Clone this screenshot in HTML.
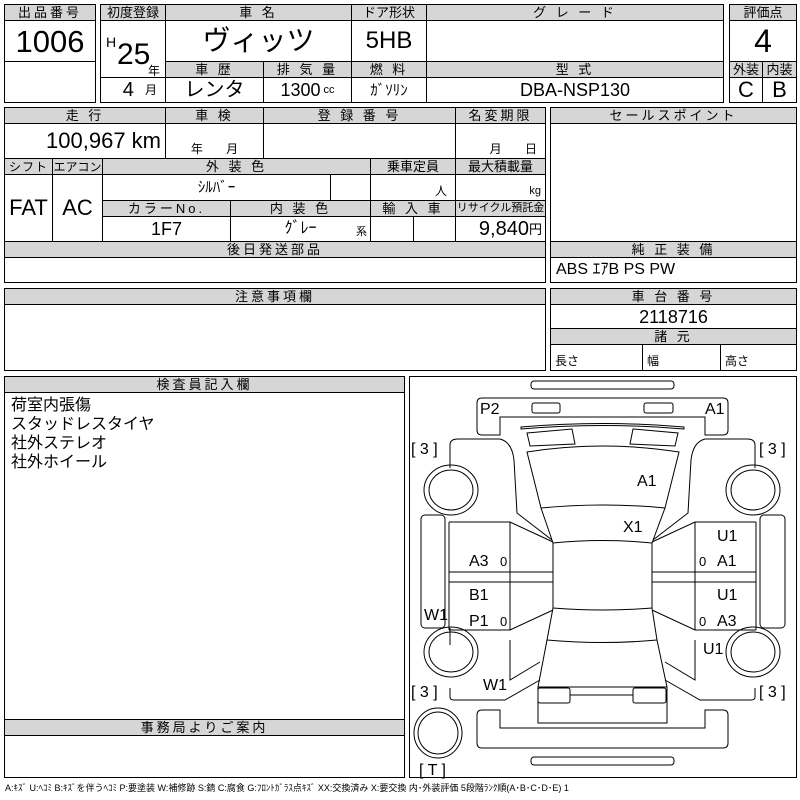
<!DOCTYPE html>
<html><head><meta charset="utf-8"><style>
*{margin:0;padding:0;box-sizing:border-box}
body{width:800px;height:800px;background:#fff;position:relative;overflow:hidden;font-family:"Liberation Sans Narrow","Liberation Sans","Noto Sans CJK JP",sans-serif;color:#000}
.c{position:absolute;border:1px solid #000;display:flex;align-items:center;justify-content:center;white-space:nowrap;line-height:1}
.h{background:#d6d6d6;font-size:13px;letter-spacing:3px}
.o{position:absolute;border:1.5px solid #000}
svg{position:absolute;left:0;top:0}
</style></head><body>
<!-- box1 -->
<div class="c h" style="left:4px;top:4px;width:92px;height:17px">出品番号</div>
<div class="c" style="left:4px;top:20px;width:92px;height:42px;font-size:31px">1006</div>
<div class="c" style="left:4px;top:61px;width:92px;height:42px"></div>
<!-- box2 -->
<div class="c h" style="left:100px;top:4px;width:66px;height:17px;letter-spacing:0">初度登録</div>
<div class="c h" style="left:165px;top:4px;width:187px;height:17px">車 名</div>
<div class="c h" style="left:351px;top:4px;width:76px;height:17px;letter-spacing:0">ドア形状</div>
<div class="c h" style="left:426px;top:4px;width:298px;height:17px">グ レ ー ド</div>
<div class="c" style="left:100px;top:20px;width:66px;height:58px;border-bottom:none"></div>
<div style="position:absolute;left:106px;top:34px;font-size:14px">H</div>
<div style="position:absolute;left:117px;top:38px;font-size:30px">25</div>
<div style="position:absolute;left:148px;top:62px;font-size:12px">年</div>
<div class="c" style="left:165px;top:20px;width:187px;height:42px;font-size:28px">ヴィッツ</div>
<div class="c" style="left:351px;top:20px;width:76px;height:42px;font-size:24px">5HB</div>
<div class="c" style="left:426px;top:20px;width:298px;height:42px"></div>
<div class="c h" style="left:165px;top:61px;width:99px;height:17px">車 歴</div>
<div class="c h" style="left:263px;top:61px;width:89px;height:17px">排 気 量</div>
<div class="c h" style="left:351px;top:61px;width:76px;height:17px">燃 料</div>
<div class="c h" style="left:426px;top:61px;width:298px;height:17px">型 式</div>
<div class="c" style="left:100px;top:77px;width:66px;height:26px;font-size:20px;justify-content:flex-end;padding-right:8px">4&nbsp;&nbsp;<span style="font-size:12px">月</span></div>
<div class="c" style="left:165px;top:77px;width:99px;height:26px;font-size:20px">レンタ</div>
<div class="c" style="left:263px;top:77px;width:89px;height:26px;font-size:18px">1300 <span style="font-size:11px">&nbsp;cc</span></div>
<div class="c" style="left:351px;top:77px;width:76px;height:26px;font-size:15px">ｶﾞｿﾘﾝ</div>
<div class="c" style="left:426px;top:77px;width:298px;height:26px;font-size:18px">DBA-NSP130</div>
<!-- box3 -->
<div class="c h" style="left:729px;top:4px;width:68px;height:17px;letter-spacing:0">評価点</div>
<div class="c" style="left:729px;top:20px;width:68px;height:42px;font-size:32px">4</div>
<div class="c h" style="left:729px;top:61px;width:34px;height:17px;letter-spacing:0">外装</div>
<div class="c h" style="left:762px;top:61px;width:35px;height:17px;letter-spacing:0">内装</div>
<div class="c" style="left:729px;top:77px;width:34px;height:26px;font-size:22px">C</div>
<div class="c" style="left:762px;top:77px;width:35px;height:26px;font-size:22px">B</div>
<!-- section 2 -->
<div class="c h" style="left:4px;top:107px;width:162px;height:17px">走 行</div>
<div class="c h" style="left:165px;top:107px;width:99px;height:17px">車 検</div>
<div class="c h" style="left:263px;top:107px;width:193px;height:17px">登 録 番 号</div>
<div class="c h" style="left:455px;top:107px;width:91px;height:17px">名変期限</div>
<div class="c" style="left:4px;top:123px;width:162px;height:36px;font-size:22px;justify-content:flex-end;padding-right:4px">100,967 km</div>
<div class="c" style="left:165px;top:123px;width:99px;height:36px;font-size:12px;align-items:flex-end;padding-bottom:3px">年&nbsp;&nbsp;&nbsp;&nbsp;&nbsp;&nbsp;&nbsp;月</div>
<div class="c" style="left:263px;top:123px;width:193px;height:36px"></div>
<div class="c" style="left:455px;top:123px;width:91px;height:36px;font-size:12px;align-items:flex-end;padding-bottom:3px;justify-content:flex-end;padding-right:8px">月&nbsp;&nbsp;&nbsp;&nbsp;&nbsp;&nbsp;&nbsp;日</div>
<div class="c h" style="left:4px;top:158px;width:49px;height:17px;font-size:12px;letter-spacing:1px">シフト</div>
<div class="c h" style="left:52px;top:158px;width:51px;height:17px;font-size:12px;letter-spacing:0">エアコン</div>
<div class="c h" style="left:102px;top:158px;width:269px;height:17px">外 装 色</div>
<div class="c h" style="left:370px;top:158px;width:86px;height:17px;letter-spacing:0">乗車定員</div>
<div class="c h" style="left:455px;top:158px;width:91px;height:17px;letter-spacing:0">最大積載量</div>
<div class="c" style="left:4px;top:174px;width:49px;height:68px;font-size:22px">FAT</div>
<div class="c" style="left:52px;top:174px;width:51px;height:68px;font-size:22px">AC</div>
<div class="c" style="left:102px;top:174px;width:229px;height:27px;font-size:15px">ｼﾙﾊﾞｰ</div>
<div class="c" style="left:330px;top:174px;width:41px;height:27px"></div>
<div class="c" style="left:370px;top:174px;width:86px;height:27px;font-size:12px;justify-content:flex-end;align-items:flex-end;padding:0 8px 3px 0">人</div>
<div class="c" style="left:455px;top:174px;width:91px;height:27px;font-size:11px;justify-content:flex-end;align-items:flex-end;padding:0 4px 3px 0">kg</div>
<div class="c h" style="left:102px;top:200px;width:129px;height:17px">カラーNo.</div>
<div class="c h" style="left:230px;top:200px;width:141px;height:17px">内 装 色</div>
<div class="c h" style="left:370px;top:200px;width:86px;height:17px">輸 入 車</div>
<div class="c h" style="left:455px;top:200px;width:91px;height:17px;font-size:11px;letter-spacing:0">リサイクル預託金</div>
<div class="c" style="left:102px;top:216px;width:129px;height:26px;font-size:18px">1F7</div>
<div class="c" style="left:230px;top:216px;width:141px;height:26px;font-size:16px">ｸﾞﾚｰ<span style="position:absolute;right:3px;bottom:3px;font-size:11px">系</span></div>
<div class="c" style="left:370px;top:216px;width:44px;height:26px"></div>
<div class="c" style="left:413px;top:216px;width:43px;height:26px"></div>
<div class="c" style="left:455px;top:216px;width:91px;height:26px;font-size:20px;justify-content:flex-end;padding-right:3px">9,840<span style="font-size:13px">円</span></div>
<div class="c h" style="left:4px;top:241px;width:542px;height:17px">後日発送部品</div>
<div class="c" style="left:4px;top:257px;width:542px;height:26px"></div>
<div class="c h" style="left:550px;top:107px;width:247px;height:17px">セールスポイント</div>
<div class="c" style="left:550px;top:123px;width:247px;height:119px"></div>
<div class="c h" style="left:550px;top:241px;width:247px;height:17px">純 正 装 備</div>
<div class="c" style="left:550px;top:257px;width:247px;height:26px;font-size:16px;justify-content:flex-start;padding-left:5px">ABS ｴｱB PS PW</div>
<!-- section 3 -->
<div class="c h" style="left:4px;top:288px;width:542px;height:17px">注意事項欄</div>
<div class="c" style="left:4px;top:304px;width:542px;height:67px"></div>
<div class="c h" style="left:550px;top:288px;width:247px;height:17px">車 台 番 号</div>
<div class="c" style="left:550px;top:304px;width:247px;height:25px;font-size:18px">2118716</div>
<div class="c h" style="left:550px;top:328px;width:247px;height:17px">諸 元</div>
<div class="c" style="left:550px;top:344px;width:93px;height:27px;font-size:12px;justify-content:flex-start;align-items:flex-end;padding:0 0 3px 4px">長さ</div>
<div class="c" style="left:642px;top:344px;width:79px;height:27px;font-size:12px;justify-content:flex-start;align-items:flex-end;padding:0 0 3px 4px">幅</div>
<div class="c" style="left:720px;top:344px;width:77px;height:27px;font-size:12px;justify-content:flex-start;align-items:flex-end;padding:0 0 3px 4px">高さ</div>
<!-- section 4 -->
<div class="c h" style="left:4px;top:376px;width:401px;height:17px">検査員記入欄</div>
<div class="c" style="left:4px;top:392px;width:401px;height:328px;align-items:flex-start;justify-content:flex-start;padding:3px 0 0 6px;font-size:16px;line-height:19px;white-space:normal;display:block">荷室内張傷<br>スタッドレスタイヤ<br>社外ステレオ<br>社外ホイール</div>
<div class="c h" style="left:4px;top:719px;width:401px;height:17px">事務局よりご案内</div>
<div class="c" style="left:4px;top:735px;width:401px;height:43px"></div>
<div class="c" style="left:409px;top:376px;width:388px;height:402px"></div>
<svg width="800" height="800" viewBox="0 0 800 800" fill="none" stroke="#000" stroke-width="1">
<rect x="531" y="381" width="143" height="8" rx="3"/>
<path d="M482 398 H723 Q728 398 728 403 V430 Q728 435 723 435 H705 V417 H500 V435 H482 Q477 435 477 430 V403 Q477 398 482 398Z"/>
<rect x="532" y="403" width="28" height="10" rx="2"/>
<rect x="644" y="403" width="29" height="10" rx="2"/>
<path d="M521 427 Q603 420 684 427 L684 429 Q603 422 521 429Z"/>
<path d="M527 433 L572 429 L575 444 L530 446Z"/>
<path d="M633 429 L678 433 L675 446 L630 444Z"/>
<path d="M527 452 Q603 440 679 452 L665 508 Q603 502 541 508Z"/>
<path d="M541 508 L553 543 Q603 538 652 543 L665 508"/>
<path d="M553 543 V608 Q603 612 652 608 V543"/>
<path d="M553 608 L547 640 Q603 645 657 640 L652 608"/>
<path d="M547 640 L538 687 H667 L657 640"/>
<rect x="538" y="687" width="129" height="36"/>
<rect x="538" y="688" width="32" height="15" rx="2"/>
<rect x="633" y="688" width="33" height="15" rx="2"/>
<line x1="570" y1="695" x2="633" y2="695"/>
<path d="M482 748 H723 Q728 748 728 743 V715 Q728 710 723 710 H705 V728 H500 V710 H482 Q477 710 477 715 V743 Q477 748 482 748Z"/>
<rect x="531" y="757" width="143" height="8" rx="3"/>
<!-- fenders -->
<path d="M450 468 V445 Q450 439 458 439 H500 Q512 442 514 460 L517 513 L552 540"/>
<path d="M755 468 V445 Q755 439 747 439 H705 Q693 442 691 460 L688 513 L653 540"/>
<path d="M450 628 V645"/>
<path d="M450 688 V697 Q450 700 454 700 H505 L540 680 M510 640 V680 L540 662"/>
<path d="M755 688 V697 Q755 700 751 700 H700 L665 680 M695 640 L695 680 L665 662"/>
<!-- doors -->
<path d="M449 522 H510 L553 542 M449 572 H553 M449 582 H553 M449 630 H510 L553 610 M510 522 V630 M449 522 V630"/>
<path d="M756 522 H695 L652 542 M756 572 H652 M756 582 H652 M756 630 H695 L652 610 M695 522 V630 M756 522 V630"/>
<rect x="421" y="515" width="24" height="113" rx="4"/>
<rect x="760" y="515" width="25" height="113" rx="4"/>
<ellipse cx="451" cy="490" rx="27" ry="25"/><ellipse cx="451" cy="490" rx="22" ry="20"/>
<ellipse cx="753" cy="490" rx="27" ry="25"/><ellipse cx="753" cy="490" rx="22" ry="20"/>
<ellipse cx="451" cy="652" rx="27" ry="25"/><ellipse cx="451" cy="652" rx="22" ry="20"/>
<ellipse cx="753" cy="652" rx="27" ry="25"/><ellipse cx="753" cy="652" rx="22" ry="20"/>
<ellipse cx="438" cy="733" rx="24" ry="25"/><ellipse cx="438" cy="733" rx="20" ry="21"/>
<g fill="#000" stroke="none" font-family="Liberation Sans Narrow, Liberation Sans, sans-serif" font-size="16">
<text x="480" y="414">P2</text><text x="705" y="414">A1</text>
<text x="637" y="486">A1</text><text x="623" y="532">X1</text>
<text x="469" y="566">A3</text><text x="500" y="566" font-size="13">0</text>
<text x="469" y="600">B1</text><text x="469" y="626">P1</text><text x="500" y="626" font-size="13">0</text>
<text x="424" y="620">W1</text>
<text x="717" y="541">U1</text><text x="699" y="566" font-size="13">0</text><text x="717" y="566">A1</text>
<text x="717" y="600">U1</text><text x="699" y="626" font-size="13">0</text><text x="717" y="626">A3</text>
<text x="703" y="654">U1</text><text x="483" y="690">W1</text>
<text x="411" y="454">[ 3 ]</text><text x="759" y="454">[ 3 ]</text>
<text x="411" y="697">[ 3 ]</text><text x="759" y="697">[ 3 ]</text>
<text x="419" y="775">[ T ]</text>
</g>
</svg>
<div style="position:absolute;left:5px;top:781px;font-size:9px;white-space:nowrap;font-family:'Liberation Sans Narrow','Liberation Sans','Noto Sans CJK JP',sans-serif">A:ｷｽﾞ U:ﾍｺﾐ B:ｷｽﾞを伴うﾍｺﾐ P:要塗装 W:補修跡 S:錆 C:腐食 G:ﾌﾛﾝﾄｶﾞﾗｽ点ｷｽﾞ XX:交換済み X:要交換 内･外装評価 5段階ﾗﾝｸ順(A･B･C･D･E) 1</div>
</body></html>
